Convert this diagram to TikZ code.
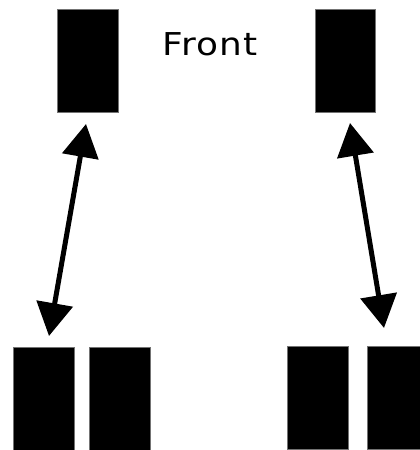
\documentclass[tikz,border=0pt]{standalone}
\usepackage{fontspec}
\setmainfont{DejaVu Sans}
\newfontfamily\labelfont[FakeStretch=1.14,LetterSpace=4]{DejaVu Sans}
\usetikzlibrary{arrows.meta}
\begin{document}
\begin{tikzpicture}[x=1pt,y=1pt,
  block/.style={rectangle, fill=black, draw=black!55, line width=0.6pt,
    minimum width=61pt, minimum height=103pt, inner sep=0pt},
  swap/.style={line width=5pt,
    {Triangle[length=33pt,width=36pt]}-{Triangle[length=33pt,width=36pt]}}]
  \useasboundingbox (0,0) rectangle (420,450);
  \clip (0,0) rectangle (420,450);
  % upper blocks
  \node[block] (tl) at (87.5,389.5) {};
  \node[block, minimum width=60pt] (tr) at (345,389.5) {};
  % lower pairs of blocks
  \node[block] (b1) at (43.5,51.5) {};
  \node[block] (b2) at (119.5,51.5) {};
  \node[block] (b3) at (317.5,52.5) {};
  \node[block] (b4) at (397.5,52.5) {};
  % label
  \node[font=\labelfont\fontsize{31.5}{36}\selectfont, inner sep=0pt, anchor=base]
    (front) at (210,394) {Front};
  % arrow end points
  \coordinate (la) at (86,326);
  \coordinate (lb) at (49,114);
  \coordinate (ra) at (350,327);
  \coordinate (rb) at (384,122);
  \draw[swap] (la) -- (lb);
  \draw[swap] (ra) -- (rb);
\end{tikzpicture}
\end{document}
